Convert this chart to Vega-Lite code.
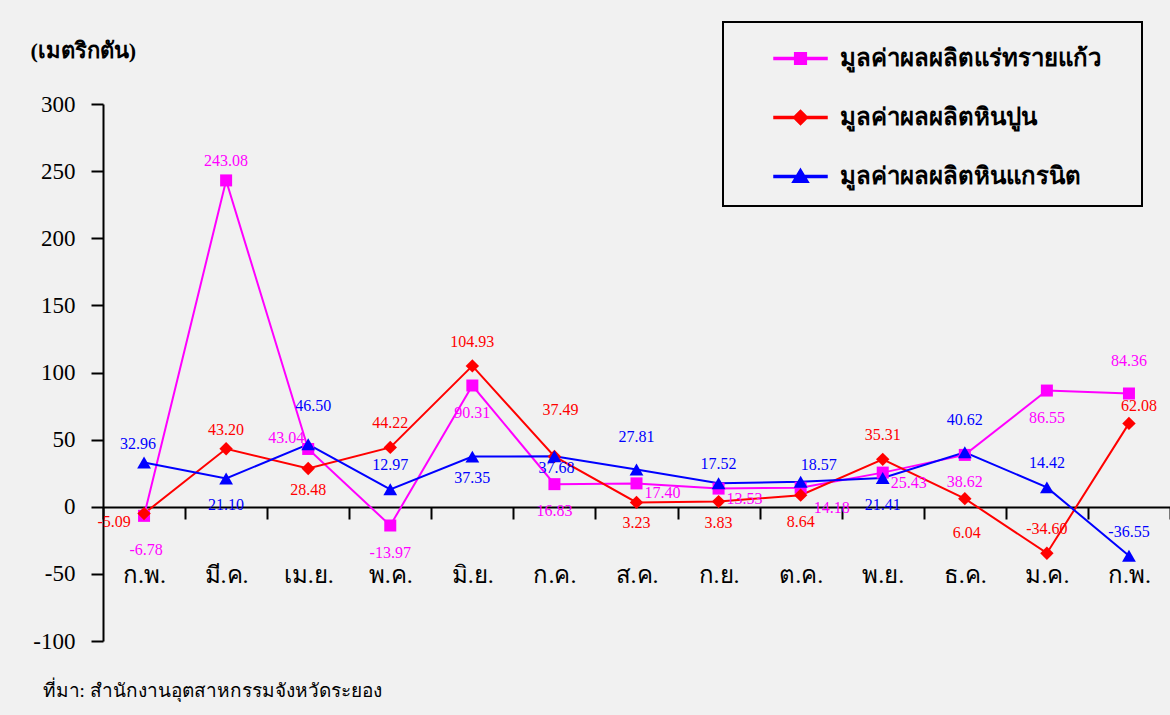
{
  "$schema": "https://vega.github.io/schema/vega-lite/v6.json",
  "width": 1067,
  "height": 537,
  "autosize": {"type": "none"},
  "padding": {"left": 103, "top": 104, "right": 0, "bottom": 74},
  "background": "#f1f1f1",
  "config": {
    "view": {"stroke": null},
    "locale": {"number": {"decimal": ".", "thousands": ",", "grouping": [3], "currency": ["", ""], "minus": "-"}},
    "axis": {"grid": false}
  },
  "data": {
    "values": [
      {"m": 0, "id": "sand", "series": "มูลค่าผลผลิตแร่ทรายแก้ว", "value": -6.78},
      {"m": 1, "id": "sand", "series": "มูลค่าผลผลิตแร่ทรายแก้ว", "value": 243.08},
      {"m": 2, "id": "sand", "series": "มูลค่าผลผลิตแร่ทรายแก้ว", "value": 43.04},
      {"m": 3, "id": "sand", "series": "มูลค่าผลผลิตแร่ทรายแก้ว", "value": -13.97},
      {"m": 4, "id": "sand", "series": "มูลค่าผลผลิตแร่ทรายแก้ว", "value": 90.31},
      {"m": 5, "id": "sand", "series": "มูลค่าผลผลิตแร่ทรายแก้ว", "value": 16.83},
      {"m": 6, "id": "sand", "series": "มูลค่าผลผลิตแร่ทรายแก้ว", "value": 17.40},
      {"m": 7, "id": "sand", "series": "มูลค่าผลผลิตแร่ทรายแก้ว", "value": 13.53},
      {"m": 8, "id": "sand", "series": "มูลค่าผลผลิตแร่ทรายแก้ว", "value": 14.18},
      {"m": 9, "id": "sand", "series": "มูลค่าผลผลิตแร่ทรายแก้ว", "value": 25.43},
      {"m": 10, "id": "sand", "series": "มูลค่าผลผลิตแร่ทรายแก้ว", "value": 38.62},
      {"m": 11, "id": "sand", "series": "มูลค่าผลผลิตแร่ทรายแก้ว", "value": 86.55},
      {"m": 12, "id": "sand", "series": "มูลค่าผลผลิตแร่ทรายแก้ว", "value": 84.36},
      {"m": 0, "id": "lime", "series": "มูลค่าผลผลิตหินปูน", "value": -5.09},
      {"m": 1, "id": "lime", "series": "มูลค่าผลผลิตหินปูน", "value": 43.20},
      {"m": 2, "id": "lime", "series": "มูลค่าผลผลิตหินปูน", "value": 28.48},
      {"m": 3, "id": "lime", "series": "มูลค่าผลผลิตหินปูน", "value": 44.22},
      {"m": 4, "id": "lime", "series": "มูลค่าผลผลิตหินปูน", "value": 104.93},
      {"m": 5, "id": "lime", "series": "มูลค่าผลผลิตหินปูน", "value": 37.49},
      {"m": 6, "id": "lime", "series": "มูลค่าผลผลิตหินปูน", "value": 3.23},
      {"m": 7, "id": "lime", "series": "มูลค่าผลผลิตหินปูน", "value": 3.83},
      {"m": 8, "id": "lime", "series": "มูลค่าผลผลิตหินปูน", "value": 8.64},
      {"m": 9, "id": "lime", "series": "มูลค่าผลผลิตหินปูน", "value": 35.31},
      {"m": 10, "id": "lime", "series": "มูลค่าผลผลิตหินปูน", "value": 6.04},
      {"m": 11, "id": "lime", "series": "มูลค่าผลผลิตหินปูน", "value": -34.60},
      {"m": 12, "id": "lime", "series": "มูลค่าผลผลิตหินปูน", "value": 62.08},
      {"m": 0, "id": "granite", "series": "มูลค่าผลผลิตหินแกรนิต", "value": 32.96},
      {"m": 1, "id": "granite", "series": "มูลค่าผลผลิตหินแกรนิต", "value": 21.10},
      {"m": 2, "id": "granite", "series": "มูลค่าผลผลิตหินแกรนิต", "value": 46.50},
      {"m": 3, "id": "granite", "series": "มูลค่าผลผลิตหินแกรนิต", "value": 12.97},
      {"m": 4, "id": "granite", "series": "มูลค่าผลผลิตหินแกรนิต", "value": 37.35},
      {"m": 5, "id": "granite", "series": "มูลค่าผลผลิตหินแกรนิต", "value": 37.68},
      {"m": 6, "id": "granite", "series": "มูลค่าผลผลิตหินแกรนิต", "value": 27.81},
      {"m": 7, "id": "granite", "series": "มูลค่าผลผลิตหินแกรนิต", "value": 17.52},
      {"m": 8, "id": "granite", "series": "มูลค่าผลผลิตหินแกรนิต", "value": 18.57},
      {"m": 9, "id": "granite", "series": "มูลค่าผลผลิตหินแกรนิต", "value": 21.41},
      {"m": 10, "id": "granite", "series": "มูลค่าผลผลิตหินแกรนิต", "value": 40.62},
      {"m": 11, "id": "granite", "series": "มูลค่าผลผลิตหินแกรนิต", "value": 14.42},
      {"m": 12, "id": "granite", "series": "มูลค่าผลผลิตหินแกรนิต", "value": -36.55}
    ]
  },
  "encoding": {
    "x": {
      "field": "m",
      "type": "ordinal",
      "scale": {"type": "band", "paddingInner": 0, "paddingOuter": 0},
      "axis": {
        "offset": -134,
        "labelExpr": "['ก.พ.','มี.ค.','เม.ย.','พ.ค.','มิ.ย.','ก.ค.','ส.ค.','ก.ย.','ต.ค.','พ.ย.','ธ.ค.','ม.ค.','ก.พ.'][datum.value]",
        "labelAngle": 0,
        "labelFont": "Liberation Serif",
        "labelFontSize": 24,
        "labelColor": "black",
        "labelPadding": 44,
        "domainColor": "black",
        "domainWidth": 2,
        "tickColor": "black",
        "tickWidth": 2,
        "tickSize": 12,
        "tickBand": "extent",
        "title": "ที่มา: สำนักงานอุตสาหกรรมจังหวัดระยอง",
        "titleX": -61,
        "titleY": 183,
        "titleAlign": "left",
        "titleBaseline": "middle",
        "titleFont": "Liberation Serif",
        "titleFontSize": 19,
        "titleFontWeight": "normal",
        "titleColor": "black"
      }
    },
    "y": {
      "field": "value",
      "type": "quantitative",
      "scale": {"domain": [-100, 300], "nice": false, "zero": false},
      "axis": {
        "values": [-100, -50, 0, 50, 100, 150, 200, 250, 300],
        "labelFont": "Liberation Serif",
        "labelFontSize": 23,
        "labelColor": "black",
        "labelPadding": 16,
        "domainColor": "black",
        "domainWidth": 2,
        "tickColor": "black",
        "tickWidth": 2,
        "tickSize": 12,
        "title": "(เมตริกตัน)",
        "titleAngle": 0,
        "titleX": -73,
        "titleY": -54,
        "titleAlign": "left",
        "titleBaseline": "middle",
        "titleFont": "Liberation Serif",
        "titleFontSize": 22,
        "titleFontWeight": "bold",
        "titleColor": "black"
      }
    },
    "color": {
      "field": "series",
      "type": "nominal",
      "scale": {
        "domain": ["มูลค่าผลผลิตแร่ทรายแก้ว", "มูลค่าผลผลิตหินปูน", "มูลค่าผลผลิตหินแกรนิต"],
        "range": ["#ff00ff", "#ff0000", "#0000ff"]
      },
      "legend": {
        "title": "MMMMMMMMMMMMMMMMMMMMMMMMMMMMMMMMMMMMMMMMMMMMMMMMMMMMMMMMMMMMMMMMMMMMMMMMMMM",
        "titleOrient": "bottom",
        "titleFont": "Liberation Serif",
        "titleFontSize": 6,
        "titleFontWeight": "normal",
        "titleColor": "transparent",
        "titlePadding": 2,
        "titleLimit": 1000,
        "orient": "none",
        "legendX": 620,
        "legendY": -82,
        "padding": 9,
        "strokeColor": "black",
        "symbolSize": 2809,
        "symbolOffset": 41,
        "rowPadding": 19,
        "labelOffset": 12,
        "labelLimit": 600,
        "labelFont": "Liberation Serif",
        "labelFontSize": 24,
        "labelFontWeight": "bold",
        "labelColor": "black",
        "encode": {
          "legend": {"update": {"strokeWidth": {"value": 2}}},
          "symbols": {
            "update": {
              "shape": {"signal": "['M-1,-0.04L1,-0.04L1,0.04L-1,0.04Z M-0.22,-0.22L0.22,-0.22L0.22,0.22L-0.22,0.22Z','M-1,-0.04L1,-0.04L1,0.04L-1,0.04Z M0,-0.27L0.27,0L0,0.27L-0.27,0Z','M-1,-0.04L1,-0.04L1,0.04L-1,0.04Z M0,-0.28L0.3,0.22L-0.3,0.22Z'][indexof(domain('color'), datum.value)]"},
              "fill": {"signal": "scale('color', datum.value)"},
              "stroke": {"value": "transparent"},
              "opacity": {"value": 1},
              "fillOpacity": {"value": 1}
            }
          }
        }
      }
    }
  },
  "layer": [
    {"mark": {"type": "line", "strokeWidth": 2}},
    {
      "transform": [{"filter": "datum.id == 'sand'"}],
      "mark": {"type": "point", "shape": "square", "filled": true, "opacity": 1, "size": 144}
    },
    {
      "transform": [{"filter": "datum.id == 'lime'"}],
      "mark": {"type": "point", "shape": "diamond", "filled": true, "opacity": 1, "size": 180}
    },
    {
      "transform": [{"filter": "datum.id == 'granite'"}],
      "mark": {"type": "point", "shape": "triangle-up", "filled": true, "opacity": 1, "size": 190}
    },
    {
      "encoding": {"text": {"field": "value", "type": "quantitative", "format": ".2f"}},
      "layer": [
        {"transform": [{"filter": "indexof(['sand1','lime1','granite7'], datum.id + datum.m) >= 0"}], "mark": {"type": "text", "font": "Liberation Serif", "fontSize": 16, "dx": 0, "dy": -19}},
        {"transform": [{"filter": "indexof(['granite0'], datum.id + datum.m) >= 0"}], "mark": {"type": "text", "font": "Liberation Serif", "fontSize": 16, "dx": -6, "dy": -19}},
        {"transform": [{"filter": "indexof(['lime3','lime4','lime9','lime11','granite3','granite11','granite12'], datum.id + datum.m) >= 0"}], "mark": {"type": "text", "font": "Liberation Serif", "fontSize": 16, "dx": 0, "dy": -24}},
        {"transform": [{"filter": "indexof(['sand12','granite6','granite10'], datum.id + datum.m) >= 0"}], "mark": {"type": "text", "font": "Liberation Serif", "fontSize": 16, "dx": 0, "dy": -32}},
        {"transform": [{"filter": "indexof(['granite2'], datum.id + datum.m) >= 0"}], "mark": {"type": "text", "font": "Liberation Serif", "fontSize": 16, "dx": 5, "dy": -38}},
        {"transform": [{"filter": "indexof(['lime5'], datum.id + datum.m) >= 0"}], "mark": {"type": "text", "font": "Liberation Serif", "fontSize": 16, "dx": 6, "dy": -46}},
        {"transform": [{"filter": "indexof(['lime12'], datum.id + datum.m) >= 0"}], "mark": {"type": "text", "font": "Liberation Serif", "fontSize": 16, "dx": 10, "dy": -17}},
        {"transform": [{"filter": "indexof(['granite8'], datum.id + datum.m) >= 0"}], "mark": {"type": "text", "font": "Liberation Serif", "fontSize": 16, "dx": 18, "dy": -17}},
        {"transform": [{"filter": "indexof(['lime2','lime6','lime7','granite4'], datum.id + datum.m) >= 0"}], "mark": {"type": "text", "font": "Liberation Serif", "fontSize": 16, "dx": 0, "dy": 21}},
        {"transform": [{"filter": "indexof(['sand3','sand4','sand5','sand10','sand11','lime8','granite9','granite1'], datum.id + datum.m) >= 0"}], "mark": {"type": "text", "font": "Liberation Serif", "fontSize": 16, "dx": 0, "dy": 27}},
        {"transform": [{"filter": "indexof(['sand0','lime10'], datum.id + datum.m) >= 0"}], "mark": {"type": "text", "font": "Liberation Serif", "fontSize": 16, "dx": 2, "dy": 34}},
        {"transform": [{"filter": "indexof(['lime0'], datum.id + datum.m) >= 0"}], "mark": {"type": "text", "font": "Liberation Serif", "fontSize": 16, "dx": -30, "dy": 8}},
        {"transform": [{"filter": "indexof(['sand2'], datum.id + datum.m) >= 0"}], "mark": {"type": "text", "font": "Liberation Serif", "fontSize": 16, "dx": -22, "dy": -11}},
        {"transform": [{"filter": "indexof(['sand6','sand7','sand9'], datum.id + datum.m) >= 0"}], "mark": {"type": "text", "font": "Liberation Serif", "fontSize": 16, "dx": 26, "dy": 10}},
        {"transform": [{"filter": "indexof(['sand8'], datum.id + datum.m) >= 0"}], "mark": {"type": "text", "font": "Liberation Serif", "fontSize": 16, "dx": 31, "dy": 20}},
        {"transform": [{"filter": "indexof(['granite5'], datum.id + datum.m) >= 0"}], "mark": {"type": "text", "font": "Liberation Serif", "fontSize": 16, "dx": 2, "dy": 12}}
      ]
    }
  ]
}
